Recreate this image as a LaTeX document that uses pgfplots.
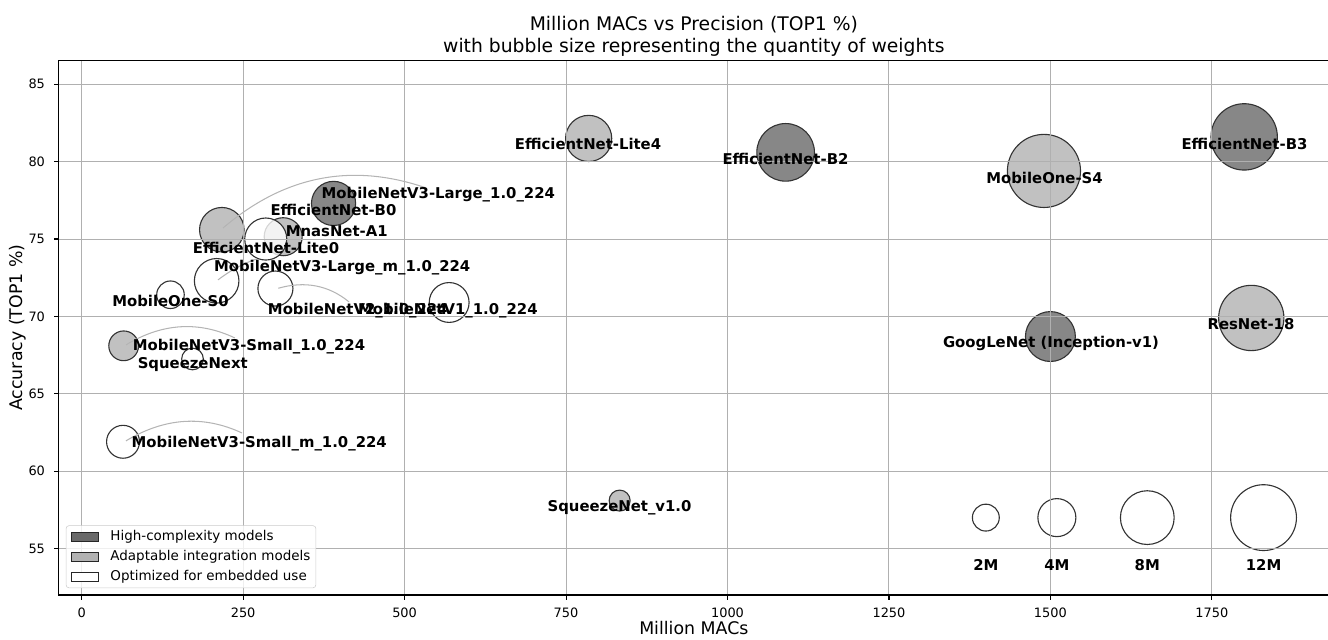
\documentclass[border=0pt]{standalone}
\usepackage{pgfplots}
\pgfplotsset{compat=1.18}
\usepackage{fontspec}
\setmainfont{DejaVu Sans}
\definecolor{gridc}{HTML}{B0B0B0}
\definecolor{hc}{HTML}{696969}
\definecolor{ai}{HTML}{B2B2B2}
\definecolor{arcc}{HTML}{B4B4B4}
\pgfplotsset{
  layers/mylayers/.define layer set={axis background,pre main,main,axis grid,axis ticks,axis lines,axis tick labels,axis descriptions,axis foreground}{
    grid style={/pgfplots/on layer=axis grid},
    tick style={/pgfplots/on layer=axis ticks},
    axis line style={/pgfplots/on layer=axis lines},
    label style={/pgfplots/on layer=axis descriptions},
    legend style={/pgfplots/on layer=axis descriptions},
    title style={/pgfplots/on layer=axis descriptions},
    colorbar style={/pgfplots/on layer=axis descriptions},
    ticklabel style={/pgfplots/on layer=axis tick labels},
    axis background@ style={/pgfplots/on layer=axis background},
    3d box foreground style={/pgfplots/on layer=axis foreground},
  },
  bubble/.style={scatter, only marks, mark=*, forget plot,
    scatter/use mapped color={draw=black!80, fill=#1},
    mark options={fill opacity=0.8, line width=0.8pt},
    visualization depends on={6.84*sqrt(\thisrow{w}) \as \rad},
    scatter/@pre marker code/.append style={/tikz/mark size=\rad pt}},
}
\tikzset{lbl/.style={font=\bfseries\fontsize{10.7}{12.8}\selectfont, inner sep=0pt, text height=7.8pt, text depth=0pt, anchor=center},
  arc/.style={draw=arcc, line width=0.75pt}}
\newcommand{\legpatch}[1]{\addlegendimage{legend image code/.code={\path[draw=none,fill=none] (0pt,0pt) -- (27.6pt,0pt); \draw[sharp corners,fill=#1,fill opacity=1,draw opacity=1,draw=black!85,line width=0.8pt] (0pt,-3.25pt) rectangle (19.5pt,3.25pt);}}}
\pgfplotstableread{
x y w
1090 80.6 9.2
1800 81.6 12.2
1500 68.7 6.9
390 77.3 5.4
}\hightab
\pgfplotstableread{
x y w
785 81.5 5.9
1490 79.4 14.8
1811 69.9 11.8
833 58.1 1.22
217 75.6 5.5
312 75.15 4.0
65 68.1 2.45
}\adapttab
\pgfplotstableread{
x y w
285 75.0 4.9
209 72.3 5.5
300 71.8 3.4
569 70.9 4.4
137.5 71.4 2.1
171.6 67.25 1.3
64 61.9 3.0
}\embtab
\pgfplotstableread{
x y w
1400 57 2
1510 57 4
1650 57 8
1830 57 12
}\sizetab
\begin{document}
\begin{tikzpicture}
\begin{axis}[
  name=ax, set layers=mylayers,
  scale only axis, width=914.3pt, height=385pt,
  xmin=-35.3, xmax=1931, ymin=52.0, ymax=86.55,
  xtick={0,250,500,750,1000,1250,1500,1750},
  ytick={55,60,65,70,75,80,85},
  grid=major, grid style={color=gridc, line width=0.75pt},
  axis line style={line width=0.8pt, black},
  tick style={line width=0.8pt, black},
  tick align=outside, major tick length=3.5pt, tick pos=left,
  /pgf/number format/assume math mode=true,
  /pgf/number format/1000 sep={},
  scaled ticks=false,
  tick label style={font=\fontsize{9.3}{11}\selectfont},
  xticklabel style={yshift=-2pt},
  yticklabel style={xshift=-3pt},
  xlabel={Million MACs}, ylabel={Accuracy (TOP1 \%)},
  every axis x label/.style={at={(axis description cs:0.5,-0.0618)}, anchor=center, font=\fontsize{12.5}{15}\selectfont},
  every axis y label/.style={at={(axis description cs:-0.03216,0.5)}, anchor=center, rotate=90, font=\fontsize{12.5}{15}\selectfont},
  title={Million MACs vs Precision (TOP1 \%)\\with bubble size representing the quantity of weights},
  every axis title/.style={at={(axis description cs:0.5,1)}, anchor=south, inner sep=0pt, yshift=2.4pt, align=center, font=\fontsize{13.5}{16.2}\selectfont},
  legend style={at={(0,0)}, anchor=south west, xshift=5pt, yshift=5pt, draw=black!20, rounded corners=2pt, fill=white, fill opacity=0.8, draw opacity=1, text opacity=1, font=\fontsize{9.7}{11.6}\selectfont, inner xsep=3.4pt, inner ysep=2.45pt, nodes={inner xsep=0.5pt, inner ysep=1pt}, row sep=3.6pt},
  legend cell align=left,
]
\addplot[bubble=hc] table[x=x,y=y] {\hightab};
\addplot[bubble=ai] table[x=x,y=y] {\adapttab};
\addplot[bubble=white] table[x=x,y=y] {\embtab};
\addplot[bubble=white] table[x=x,y=y] {\sizetab};
\legpatch{hc}
\addlegendentry{High-complexity models}
\legpatch{ai}
\addlegendentry{Adaptable integration models}
\legpatch{white}
\addlegendentry{Optimized for embedded use}
\begin{pgfonlayer}{axis foreground}
\draw[arc] (axis cs:68.6,61.96) .. controls (axis cs:128.5,63.46) and (axis cs:188.3,63.63) .. (axis cs:248.2,62.47);
\draw[arc] (axis cs:68.6,68.16) .. controls (axis cs:124.7,69.57) and (axis cs:180.9,69.72) .. (axis cs:237.1,68.61);
\draw[arc] (axis cs:211.1,72.36) .. controls (axis cs:230.8,72.99) and (axis cs:251.0,73.44) .. (axis cs:271.6,73.72);
\draw[arc] (axis cs:218.8,75.71) .. controls (axis cs:313.1,79.08) and (axis cs:417.6,79.95) .. (axis cs:532.1,78.32);
\draw[arc] (axis cs:304.4,71.82) .. controls (axis cs:346.0,72.31) and (axis cs:382.5,72.01) .. (axis cs:413.9,70.94);
\node[lbl] at (axis cs:784.0,81.11) {EfficientNet-Lite4};
\node[lbl] at (axis cs:1089.8,80.19) {EfficientNet-B2};
\node[lbl] at (axis cs:1490.9,78.96) {MobileOne-S4};
\node[lbl] at (axis cs:1800.5,81.16) {EfficientNet-B3};
\node[lbl] at (axis cs:1810.6,69.50) {ResNet-18};
\node[lbl] at (axis cs:1500.9,68.31) {GoogLeNet (Inception-v1)};
\node[lbl] at (axis cs:832.8,57.74) {SqueezeNet\_v1.0};
\node[lbl] at (axis cs:552.2,77.98) {MobileNetV3-Large\_1.0\_224};
\node[lbl] at (axis cs:389.9,76.85) {EfficientNet-B0};
\node[lbl] at (axis cs:394.9,75.54) {MnasNet-A1};
\node[lbl] at (axis cs:285.4,74.41) {EfficientNet-Lite0};
\node[lbl] at (axis cs:403.4,73.28) {MobileNetV3-Large\_m\_1.0\_224};
\node[lbl] at (axis cs:427.5,70.45) {MobileNetV2\_1.0\_224};
\node[lbl] at (axis cs:566.9,70.45) {MobileNetV1\_1.0\_224};
\node[lbl] at (axis cs:137.5,70.99) {MobileOne-S0};
\node[lbl] at (axis cs:259.1,68.13) {MobileNetV3-Small\_1.0\_224};
\node[lbl] at (axis cs:172.0,66.98) {SqueezeNext};
\node[lbl] at (axis cs:274.9,61.91) {MobileNetV3-Small\_m\_1.0\_224};
\node[lbl] at (axis cs:1400,53.96) {2M};
\node[lbl] at (axis cs:1510,53.96) {4M};
\node[lbl] at (axis cs:1650,53.96) {8M};
\node[lbl] at (axis cs:1830,53.96) {12M};
\end{pgfonlayer}
\end{axis}
\pgfresetboundingbox
\path[use as bounding box] ([shift={(-42.4pt,-31.7pt)}]ax.south west) rectangle ([shift={(-0.55pt,43.4pt)}]ax.north east);
\end{tikzpicture}
\end{document}
